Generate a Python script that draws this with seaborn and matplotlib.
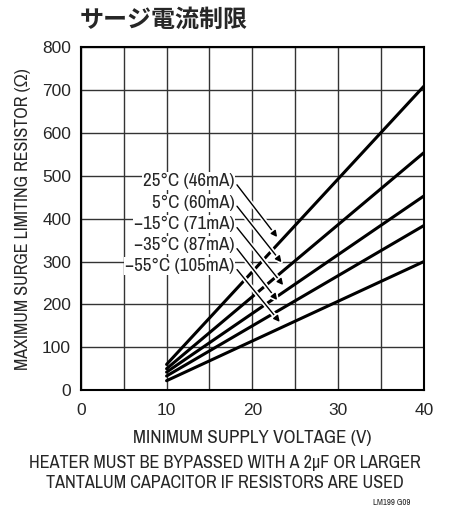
import matplotlib
matplotlib.use("Agg")
import matplotlib.pyplot as plt
import matplotlib.patheffects as pe
from matplotlib import font_manager as fm
import seaborn as sns
import pandas as pd
import numpy as np

sns.set_style("white")
_names = {f.name for f in fm.fontManager.ttflist}
if "Archivo Narrow" in _names:
    TXT = ["Archivo Narrow", "Liberation Sans", "DejaVu Sans"]
    k = 1.2
else:
    TXT = ["Liberation Sans", "DejaVu Sans"]
    k = 1.0
TICK = ["Liberation Sans", "DejaVu Sans"]
plt.rcParams['font.family'] = TXT

# Data
voltage = [10, 40]
series_labels = ["25°C (46mA)", "5°C (60mA)", "\u221215°C (71mA)", "\u221235°C (87mA)", "\u221255°C (105mA)"]
res_at_10 = [60, 50, 42, 33, 22]
res_at_40 = [709, 554, 453, 384, 300]
label_y = [487, 437, 387, 338, 289]
arrow_tip_x = [22.9, 23.4, 23.6, 22.9, 23.2]
arrow_tip_y = [357, 298, 245, 210, 159]
x_ticks = [0, 10, 20, 30, 40]
y_ticks = [0, 100, 200, 300, 400, 500, 600, 700, 800]

rows = []
for lab, a, b in zip(series_labels, res_at_10, res_at_40):
    rows.append({"V": voltage[0], "R": a, "s": lab})
    rows.append({"V": voltage[1], "R": b, "s": lab})
df = pd.DataFrame(rows)

fig = plt.figure(figsize=(4.49, 5.08), dpi=100)
ax = fig.add_axes([0.180, 0.232, 0.764, 0.675])

sns.lineplot(data=df, x="V", y="R", hue="s", palette=["black"] * 5,
             linewidth=2.2, legend=False, ax=ax, zorder=3)

ax.set_xlim(0, 40)
ax.set_ylim(0, 800)
ax.set_xticks(np.arange(0, 41, 5))
ax.set_xticklabels([str(t) if t in x_ticks else "" for t in range(0, 41, 5)], family=TICK)
ax.set_yticks(y_ticks)
ax.set_yticklabels([str(t) for t in y_ticks], family=TICK)
ax.grid(True, color="#333333", linewidth=1.0)
ax.tick_params(axis="x", length=0, labelsize=12.5, pad=9)
ax.tick_params(axis="y", length=0, labelsize=12.5, pad=7)
for sp in ax.spines.values():
    sp.set_color("black")
    sp.set_linewidth(1.5)
ax.set_xlabel("MINIMUM SUPPLY VOLTAGE (V)", fontsize=11.4 * k, labelpad=9)
ax.set_ylabel("MAXIMUM SURGE LIMITING RESISTOR (\u03a9)", fontsize=10.8 * k, labelpad=8)

for lab, ly, tx, ty in zip(series_labels, label_y, arrow_tip_x, arrow_tip_y):
    ax.annotate(lab, xy=(tx, ty), xytext=(17.9, ly), ha="right", va="center",
                fontsize=11.4 * k, zorder=5,
                bbox=dict(boxstyle="square,pad=0.05", fc="white", ec="none"),
                arrowprops=dict(arrowstyle="-|>", color="black", lw=1.0,
                                relpos=(1.0, 0.5),
                                shrinkA=2, shrinkB=0, mutation_scale=9,
                                path_effects=[pe.withStroke(linewidth=3.5, foreground="white")]))

fig.text(0.178, 0.962, "サージ電流制限", fontsize=17.3, fontweight="bold",
         family=["Noto Sans CJK JP", "DejaVu Sans"], ha="left", va="center")
fig.text(0.5, 0.069, "HEATER MUST BE BYPASSED WITH A 2\u03bcF OR LARGER\nTANTALUM CAPACITOR IF RESISTORS ARE USED",
         fontsize=10.9 * k, ha="center", va="center", linespacing=1.27)
fig.text(0.913, 0.002, "LM199 G09", fontsize=5.2 * k, fontweight="bold", color="#222222",
         ha="right", va="bottom")

fig.savefig("out.png", dpi=100)
